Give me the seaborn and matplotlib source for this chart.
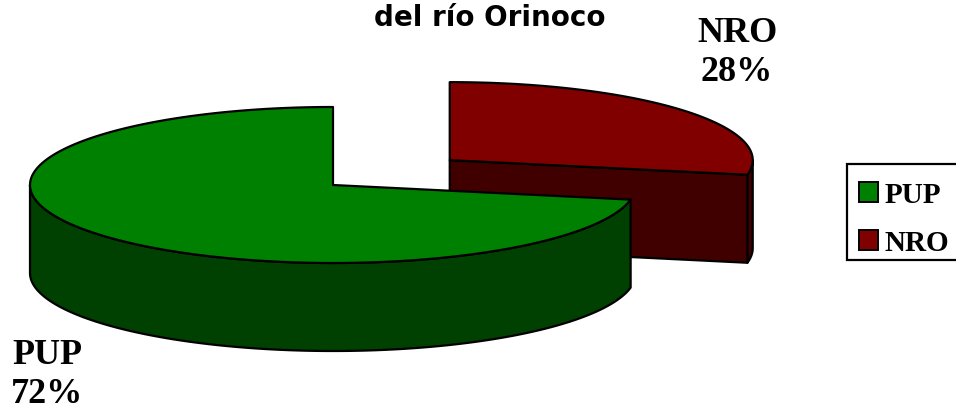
import numpy as np
import matplotlib
matplotlib.use("Agg")
import matplotlib.pyplot as plt
from matplotlib.patches import Polygon, Rectangle
import seaborn as sns

# Data
categories = ["PUP", "NRO"]
shares = [72, 28]
top_colors = ["#008000", "#800000"]
side_colors = ["#004000", "#400000"]
explode = [0.0, 0.5]
title_text = "del río Orinoco"

sns.set_theme(style="white")
plt.rcParams["font.family"] = ["Liberation Serif", "DejaVu Serif"]
plt.rcParams["text.color"] = "black"

W, H = 956, 414
fig = plt.figure(figsize=(W / 100, H / 100), dpi=100)
ax = fig.add_axes([0, 0, 1, 1])
ax.set_axis_off()

# Pie geometry (units of pie radius)
px_per_unit = 303.0
center_px = (333.0, 186.0)          # pixel position of the pie centre (from top-left)
tilt = 78.0 / px_per_unit            # vertical squash of the top face
depth = 88.0 / px_per_unit           # thickness of the pie
ax.set_xlim(-center_px[0] / px_per_unit, (W - center_px[0]) / px_per_unit)
ax.set_ylim(-(H - center_px[1]) / px_per_unit, center_px[1] / px_per_unit)

edge_kw = dict(edgecolor="black", linewidth=1.6, joinstyle="round")

total = float(sum(shares))
cum = np.concatenate([[0.0], np.cumsum(shares)]) / total
start_deg = 90.0


def rim(t_deg, off, dz=0.0):
    t = np.radians(t_deg)
    return np.column_stack([off[0] + np.cos(t), off[1] + tilt * np.sin(t) - dz])


slices = []
for i, cat in enumerate(categories):
    th0 = start_deg + 360.0 * cum[i]
    th1 = start_deg + 360.0 * cum[i + 1]
    mid = np.radians((th0 + th1) / 2)
    off = (explode[i] * np.cos(mid), explode[i] * tilt * np.sin(mid))
    slices.append((i, th0, th1, off))

# back slices first
slices.sort(key=lambda s: -s[3][1])

for i, th0, th1, off in slices:
    c = np.array(off)
    # visible outer wall: the front half of the rim
    for lo, hi in [(180, 360), (540, 720)]:
        a, b = max(th0, lo), min(th1, hi)
        if b > a:
            ts = np.linspace(a, b, 200)
            top = rim(ts, off)
            bot = rim(ts[::-1], off, depth)
            ax.add_patch(Polygon(np.vstack([top, bot]), closed=True,
                                 facecolor=side_colors[i], **edge_kw))
    # flat cut faces that face the viewer
    for t, normal in [(th0, th0 - 90), (th1, th1 + 90)]:
        if np.sin(np.radians(normal)) < -1e-6:
            p = rim([t], off)[0]
            face = np.array([c, p, p - [0, depth], c - [0, depth]])
            ax.add_patch(Polygon(face, closed=True,
                                 facecolor=side_colors[i], **edge_kw))
    # top face
    ts = np.linspace(th0, th1, 300)
    top = np.vstack([c, rim(ts, off)])
    ax.add_patch(Polygon(top, closed=True, facecolor=top_colors[i], **edge_kw))

# Slice labels
label_pos = {"NRO": (737, 53), "PUP": (47, 375)}
for cat, val in zip(categories, shares):
    x, y = label_pos[cat]
    fig.text(x / W, 1 - y / H, f"{cat}\n{val}%", ha="center", va="center",
             fontsize=26, fontweight="bold", linespacing=1.25, color="black")

# Title
fig.text(490 / W, 1 - 18 / H, title_text, ha="center", va="center",
         fontsize=20, fontweight="bold", family=["DejaVu Sans"], color="black")

# Legend box (runs off the right edge)
fig.add_artist(Rectangle((847 / W, 1 - 261 / H), 200 / W, 96 / H,
                         transform=fig.transFigure, facecolor="white",
                         edgecolor="black", linewidth=1.6, zorder=4))

handles = [Rectangle((0, 0), 1, 1, facecolor=top_colors[i], edgecolor="black",
                     linewidth=1.4) for i in range(len(categories))]
leg = fig.legend(handles, categories, loc="upper left",
                 bbox_to_anchor=(859 / W, 1 - 182 / H),
                 prop=dict(family="Liberation Serif", weight="bold", size=21),
                 labelcolor="black",
                 handlelength=0.66, handleheight=0.68, handletextpad=0.2,
                 labelspacing=0.72, borderpad=0.0, borderaxespad=0.0,
                 frameon=False)
leg.set_zorder(5)

fig.savefig("out.png", dpi=100)
